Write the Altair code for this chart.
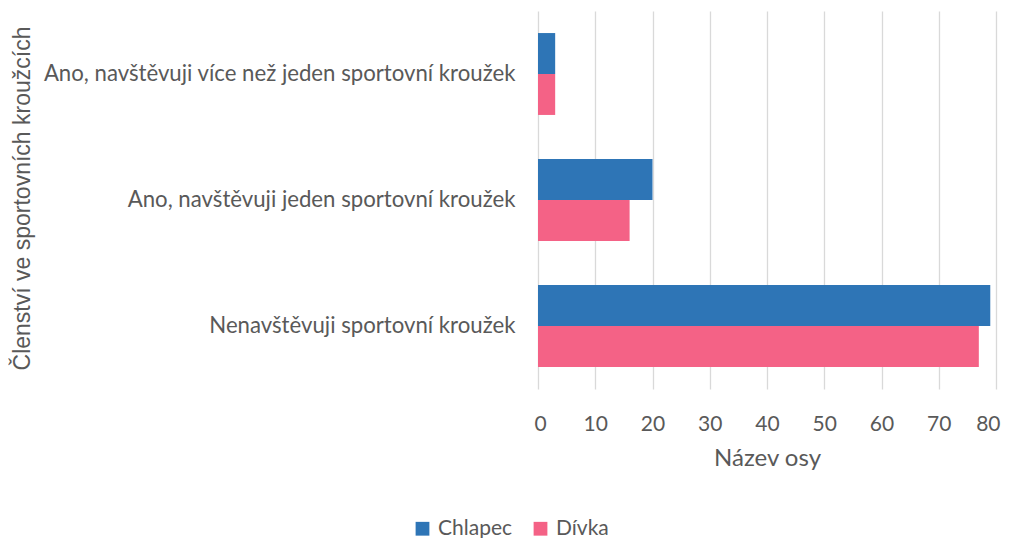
import altair as alt
import pandas as pd

categories = [
    "Ano, navštěvuji více než jeden sportovní kroužek",
    "Ano, navštěvuji jeden sportovní kroužek",
    "Nenavštěvuji sportovní kroužek",
]
series = ["Chlapec", "Dívka"]
chlapec = [3, 20, 79]
divka = [3, 16, 77]
colors = ["#2E75B6", "#F46286"]

rows = []
for c, a, b in zip(categories, chlapec, divka):
    rows.append({"kat": c, "pohlavi": "Chlapec", "hodnota": a})
    rows.append({"kat": c, "pohlavi": "Dívka", "hodnota": b})
df = pd.DataFrame(rows)

FONT = "Lato"
GRAY = "#595959"

chart = alt.Chart(df).mark_bar().encode(
    y=alt.Y(
        "kat:N",
        sort=categories,
        scale=alt.Scale(paddingInner=0.35, paddingOuter=0.175),
        axis=alt.Axis(
            title="Členství ve sportovních kroužcích",
            ticks=False,
            domain=False,
            labelPadding=23,
            labelFontSize=22.2,
            labelColor=GRAY,
            labelFont=FONT,
            labelLimit=600,
            titleFont="Liberation Sans",
            titleFontSize=23,
            titleFontWeight="normal",
            titleColor=GRAY,
            titleAngle=270,
            titleX=-516,
            titleY=187,
            titleAlign="center",
            titleBaseline="middle",
        ),
    ),
    yOffset=alt.YOffset("pohlavi:N", sort=series, scale=alt.Scale(paddingInner=0, paddingOuter=0)),
    x=alt.X(
        "hodnota:Q",
        scale=alt.Scale(domain=[0, 80], nice=False),
        axis=alt.Axis(
            title="Název osy",
            values=[0, 10, 20, 30, 40, 50, 60, 70, 80],
            ticks=False,
            domain=False,
            grid=True,
            gridColor="#D9D9D9",
            gridWidth=1.3,
            labelFlush=True,
            labelFlushOffset=4,
            labelPadding=24,
            labelFontSize=21,
            labelColor=GRAY,
            labelFont=FONT,
            titleFont=FONT,
            titleFontSize=24,
            titleFontWeight="normal",
            titleColor=GRAY,
            titlePadding=12,
        ),
    ),
    color=alt.Color(
        "pohlavi:N",
        sort=series,
        scale=alt.Scale(domain=series, range=colors),
        legend=alt.Legend(
            title=None,
            orient="none",
            direction="horizontal",
            legendX=-126,
            legendY=507,
            symbolType="square",
            symbolSize=190,
            symbolStrokeWidth=0,
            labelFontSize=21,
            labelFont=FONT,
            labelColor=GRAY,
            columnPadding=17,
            labelOffset=5,
        ),
    ),
).properties(
    width=458,
    height=378,
    padding={"left": 530, "top": 3, "right": 5, "bottom": 150},
    autosize=alt.AutoSizeParams(type="none"),
).configure_view(stroke=None).configure_axis(gridOpacity=1)

chart.save("out.html", embed_options={"renderer": "svg", "actions": False})
